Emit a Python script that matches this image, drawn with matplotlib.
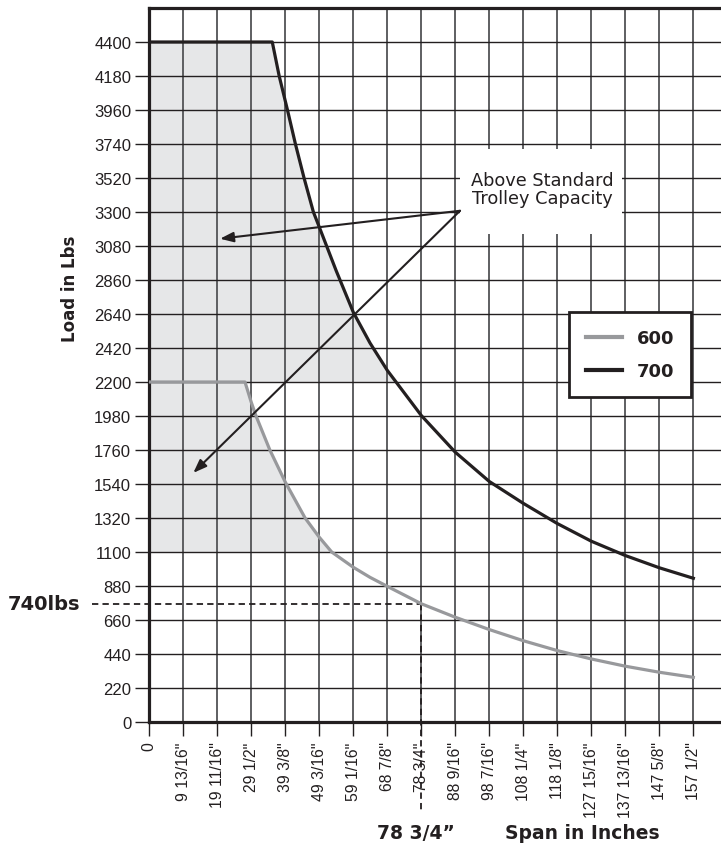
import matplotlib
matplotlib.use("Agg")
import matplotlib.pyplot as plt
from matplotlib.patches import Rectangle
import numpy as np

# ---------------- data ----------------
x_tick_values = [0, 9.8125, 19.6875, 29.5, 39.375, 49.1875, 59.0625, 68.875, 78.75,
                 88.5625, 98.4375, 108.25, 118.125, 127.9375, 137.8125, 147.625, 157.5]
x_tick_labels = ['0', '9 13/16"', '19 11/16"', '29 1/2"', '39 3/8"', '49 3/16"', '59 1/16"',
                 '68 7/8"', '78 3/4"', '88 9/16"', '98 7/16"', '108 1/4"', '118 1/8"',
                 '127 15/16"', '137 13/16"', '147 5/8"', '157 1/2"']
y_tick_values = [0, 220, 440, 660, 880, 1100, 1320, 1540, 1760, 1980, 2200, 2420, 2640,
                 2860, 3080, 3300, 3520, 3740, 3960, 4180, 4400]
y_tick_labels = [str(v) for v in y_tick_values]

# series "600" (span in inches, load in lbs)
span_600 = [0, 27.7, 29.5, 30.9, 34.9, 39.375, 45.1, 49.19, 52.8, 59.06, 63.9, 68.7,
            78.75, 88.56, 98.44, 108.25, 118.125, 127.94, 137.81, 147.63, 157.5]
load_600 = [2200, 2200, 2070, 1980, 1760, 1552, 1320, 1196, 1100, 1001, 936, 880,
            765, 678, 598, 526, 462, 408, 361, 322, 289]

# series "700"
span_700 = [0, 35.6, 37.6, 40.0, 42.3, 44.8, 47.5, 49.2, 54.1, 59.06, 63.9, 68.9,
            78.75, 88.56, 98.44, 108.25, 118.125, 127.94, 137.81, 147.63, 157.5]
load_700 = [4400, 4400, 4180, 3960, 3740, 3520, 3300, 3203, 2920, 2651, 2452, 2275,
            1983, 1746, 1556, 1415, 1284, 1170, 1077, 998, 930]

marker_span = 78.75
marker_load = 765

# ---------------- figure ----------------
plt.rcParams['font.family'] = ['Liberation Sans', 'DejaVu Sans']
fig = plt.figure(figsize=(7.21, 8.45), dpi=100)
W, H = 721, 845
ax = fig.add_axes([149.3 / W, 1 - 723 / H, 1 - 149.3 / W, (723 - 9) / H])
ax.set_xlim(0, 165.5)
ax.set_ylim(0, 4620)

# grid and ticks
ax.set_axisbelow(True)
ax.set_xticks(x_tick_values)
ax.set_xticklabels(x_tick_labels, rotation=90, ha='center', va='top', fontsize=11.3)
ax.set_yticks(y_tick_values)
ax.set_yticklabels(y_tick_labels, fontsize=12)
ax.xaxis.grid(True, color='#5e5f61', lw=1.4, zorder=0.5)
ax.yaxis.grid(True, color='#231f20', lw=1.0, zorder=0.5)
ax.tick_params(axis='y', length=10, width=1.0, color='#231f20', pad=3, labelcolor='#231f20')
ax.tick_params(axis='x', length=10, width=1.0, color='#231f20', pad=4, labelcolor='#231f20')

for s in ['left', 'bottom', 'top']:
    ax.spines[s].set_linewidth(2.3)
    ax.spines[s].set_color('#231f20')
ax.spines['right'].set_visible(False)

# shaded "above standard" regions
s7 = np.array(span_700); l7 = np.array(load_700)
s6 = np.array(span_600); l6 = np.array(load_600)
ax.fill_between(s7, 2200, l7, where=l7 >= 2200, interpolate=True,
                color='#e6e7e8', lw=0, zorder=0.3)
ax.fill_between(s6, 1100, l6, where=l6 >= 1100, interpolate=True,
                color='#e6e7e8', lw=0, zorder=0.3)

# curves
ax.plot(span_600, load_600, color='#98999c', lw=2.3, label='600', zorder=3,
        solid_joinstyle='round')
ax.plot(span_700, load_700, color='#231f20', lw=2.3, label='700', zorder=3,
        solid_joinstyle='round')

# marker dashed lines
ax.plot([-16.6, marker_span], [marker_load, marker_load], color='#231f20', lw=1.3,
        ls=(0, (3.5, 2.3)), clip_on=False, zorder=2.5)
ax.plot([marker_span, marker_span], [marker_load, -583], color='#231f20', lw=1.3,
        ls=(0, (3.5, 2.3)), clip_on=False, zorder=2.5)
for lab in ax.get_xticklabels():
    if lab.get_text() == '78 3/4"':
        lab.set_bbox(dict(facecolor='white', edgecolor='none', pad=0.5))

# annotation box
ax.add_patch(Rectangle((89.95, 3159), 136.8 - 89.95, 3710 - 3159, facecolor='white',
                       edgecolor='none', zorder=1.5))
ax.text(113.7, 3451, 'Above Standard\nTrolley Capacity', ha='center', va='center',
        fontsize=12.8, family=['DejaVu Sans'], color='#231f20', linespacing=1.0, zorder=2)
arrow_start = (89.95, 3308)
for tip in [(20.47, 3127), (12.74, 1612)]:
    ax.annotate('', xy=tip, xytext=arrow_start,
                arrowprops=dict(arrowstyle='-|>,head_length=0.8,head_width=0.3',
                                color='#231f20', lw=1.5, shrinkA=0, shrinkB=0),
                zorder=4)

# legend
leg = ax.legend(loc='center', bbox_to_anchor=(630 / W, 1 - 355.5 / H),
                bbox_transform=fig.transFigure, frameon=True, fancybox=False,
                prop={'family': 'DejaVu Sans', 'weight': 'bold', 'size': 13},
                handlelength=2.0, handletextpad=0.8, labelspacing=0.85,
                borderpad=0.95, borderaxespad=0)
leg.get_frame().set_edgecolor('#231f20')
leg.get_frame().set_linewidth(2.0)
leg.get_frame().set_facecolor('white')
leg.get_frame().set_alpha(1)
for t in leg.get_texts():
    t.set_color('#231f20')
for h in leg.get_lines():
    h.set_linewidth(3)
leg.set_zorder(5)

# axis labels / annotations
fig.text(70 / W, 1 - 289 / H, 'Load in Lbs', rotation=90, ha='center', va='center',
         fontsize=12, fontweight='bold', family=['DejaVu Sans'], color='#231f20')
fig.text(8 / W, 1 - 605 / H, '740lbs', ha='left', va='center',
         fontsize=14, fontweight='bold', family=['DejaVu Sans'], color='#231f20')
fig.text(377 / W, 1 - 834 / H, '78 3/4\u201d', ha='left', va='center',
         fontsize=13.5, fontweight='bold', family=['DejaVu Sans'], color='#231f20')
fig.text(505 / W, 1 - 834 / H, 'Span in Inches', ha='left', va='center',
         fontsize=13.5, fontweight='bold', family=['DejaVu Sans'], color='#231f20')

fig.savefig('out.png', dpi=100, facecolor='white')
